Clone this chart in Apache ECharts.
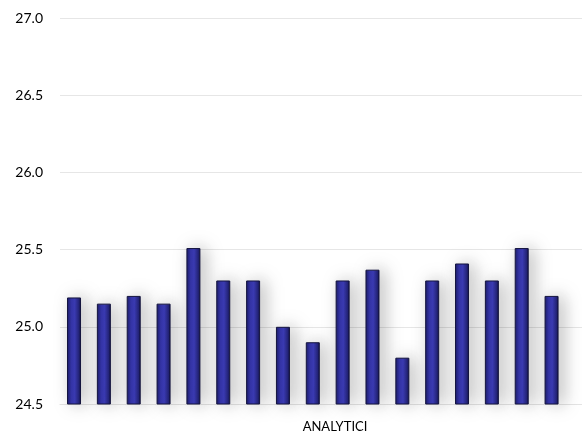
<!DOCTYPE html>
<html style="height: 100%">
    <head>
        <meta charset="utf-8">
        <script src="https://cdn.jsdelivr.net/npm/echarts@6/dist/echarts.min.js"></script>
    </head>
    <body style="height: 100%; margin: 0; background-color: #ffffff">
        <div id="container" style="width: 582px; height: 438px"></div>
        <script type="text/javascript">
        // dati
        var categorie = ['1', '2', '3', '4', '5', '6', '7', '8', '9', '10', '11', '12', '13', '14', '15', '16', '17'];
        var valori = [25.19, 25.15, 25.2, 25.15, 25.51, 25.3, 25.3, 25.0, 24.9, 25.3, 25.37, 24.8, 25.3, 25.41, 25.3, 25.51, 25.2];
        var nomeAsse = 'ANALYTICI';

        // barre su asse numerico (indice categoria) per lasciare spazio a destra
        var punti = categorie.map(function (c, i) { return [i, valori[i]]; });

        var chart = echarts.init(document.getElementById('container'));
        var option = {
            animation: false,
            grid: {
                left: 60,
                right: 0,
                top: 18,
                bottom: 30
            },
            xAxis: {
                type: 'value',
                min: -0.47,
                max: 17.02,
                name: nomeAsse,
                nameLocation: 'middle',
                nameGap: 16,
                nameTextStyle: {
                    fontFamily: 'Lato',
                    fontSize: 13,
                    color: '#000000',
                    padding: [0, 0, 0, 28]
                },
                axisLabel: { show: false },
                axisTick: { show: false },
                splitLine: { show: false },
                axisLine: { show: true, lineStyle: { color: '#e4e4e4' } }
            },
            yAxis: {
                type: 'value',
                min: 24.5,
                max: 27.0,
                interval: 0.5,
                axisLabel: {
                    fontFamily: 'Lato',
                    fontSize: 14,
                    color: '#000000',
                    margin: 17,
                    formatter: function (v) { return v.toFixed(1); }
                },
                axisLine: { show: false },
                axisTick: { show: false },
                splitLine: { lineStyle: { color: '#e6e6e6' } }
            },
            series: [
                {
                    type: 'bar',
                    data: punti,
                    barWidth: 14,
                    itemStyle: {
                        color: new echarts.graphic.LinearGradient(0, 0, 1, 0, [
                            { offset: 0, color: '#1c1c66' },
                            { offset: 0.3, color: '#3434a8' },
                            { offset: 0.55, color: '#3b3bb4' },
                            { offset: 0.85, color: '#24247a' },
                            { offset: 1, color: '#0e0e3a' }
                        ]),
                        borderColor: '#14143e',
                        borderWidth: 1,
                        shadowColor: 'rgba(0, 0, 0, 0.28)',
                        shadowBlur: 18,
                        shadowOffsetX: 5,
                        shadowOffsetY: 0
                    }
                }
            ]
        };
        chart.setOption(option);
        </script>
    </body>
</html>
